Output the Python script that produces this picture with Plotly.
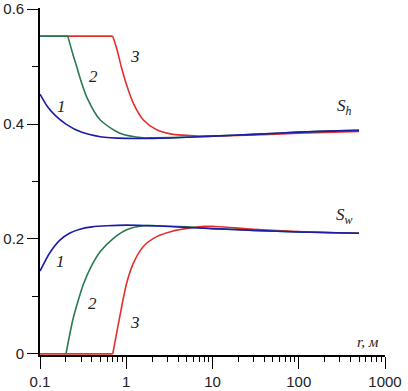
import plotly.graph_objects as go

# ---- data ----
# Upper family: S_h
r_h1 = [0.1, 0.12, 0.15, 0.2, 0.3, 0.5, 1, 2, 5, 10, 30, 100, 500]
sh_1 = [0.452, 0.432, 0.415, 0.400, 0.386, 0.378, 0.375, 0.375, 0.377, 0.379, 0.382, 0.386, 0.389]

r_h2 = [0.1, 0.21, 0.24, 0.266, 0.30, 0.348, 0.5, 0.846, 1.58, 2, 5, 10, 30, 100, 500]
sh_2 = [0.553, 0.553, 0.522, 0.500, 0.474, 0.447, 0.407, 0.384, 0.376, 0.376, 0.377, 0.379, 0.382, 0.386, 0.389]

r_h3 = [0.1, 0.697, 0.774, 0.885, 1.01, 1.21, 1.58, 2.25, 3.5, 5.5, 8, 20, 100, 500]
sh_3 = [0.553, 0.553, 0.532, 0.497, 0.468, 0.436, 0.407, 0.390, 0.382, 0.380, 0.379, 0.380, 0.384, 0.387]

# Lower family: S_w
r_w1 = [0.1, 0.13, 0.17, 0.22, 0.29, 0.4, 0.6, 1, 2, 5, 10, 30, 100, 500]
sw_1 = [0.144, 0.176, 0.198, 0.210, 0.217, 0.221, 0.223, 0.224, 0.223, 0.220, 0.218, 0.215, 0.212, 0.210]

r_w2 = [0.2, 0.24, 0.28, 0.32, 0.38, 0.5, 0.71, 1.01, 1.58, 2.2, 5, 10, 30, 100, 500]
sw_2 = [0.0, 0.059, 0.095, 0.122, 0.148, 0.178, 0.201, 0.216, 0.223, 0.223, 0.221, 0.218, 0.215, 0.212, 0.210]

r_w3 = [0.1, 0.697, 0.774, 0.885, 1.01, 1.21, 1.58, 2.25, 3.5, 5.5, 8, 10, 30, 100, 500]
sw_3 = [0.0, 0.0, 0.036, 0.082, 0.123, 0.158, 0.187, 0.204, 0.214, 0.219, 0.222, 0.222, 0.217, 0.213, 0.210]

x_ticks = [0.1, 1, 10, 100, 1000]
x_labels = ["0.1", "1", "10", "100", "1000"]
y_ticks = [0, 0.2, 0.4, 0.6]
y_labels = ["0", "0.2", "0.4", "0.6"]

BLUE = "#1c1ca8"
GREEN = "#2a7a52"
RED = "#e4302c"

fig = go.Figure()

def add(r, s, color, corner=0):
    # flat part (straight) up to the corner index, curved part as a spline
    if corner > 0:
        fig.add_trace(go.Scatter(x=r[:corner + 1], y=s[:corner + 1], mode="lines",
                                 line=dict(color=color, width=1.6),
                                 showlegend=False, hoverinfo="skip"))
    fig.add_trace(go.Scatter(x=r[corner:], y=s[corner:], mode="lines",
                             line=dict(color=color, width=1.6, shape="spline", smoothing=0.7),
                             showlegend=False, hoverinfo="skip"))

# draw order: red, green, blue (blue on top)
add(r_h3, sh_3, RED, corner=1)
add(r_w3, sw_3, RED, corner=1)
add(r_h2, sh_2, GREEN, corner=1)
add(r_w2, sw_2, GREEN)
add(r_h1, sh_1, BLUE)
add(r_w1, sw_1, BLUE)

serif = "Liberation Serif"
def lab(xlog, y, text, size=17):
    fig.add_annotation(x=xlog, y=y, text=text, showarrow=False,
                       font=dict(family=serif, size=size, color="#222"),
                       xanchor="center", yanchor="middle")

lab(-0.745, 0.430, "<i>1</i>")
lab(-0.385, 0.482, "<i>2</i>")
lab(0.101, 0.517, "<i>3</i>")
lab(-0.757, 0.160, "<i>1</i>")
lab(-0.386, 0.087, "<i>2</i>")
lab(0.101, 0.054, "<i>3</i>")
lab(2.536, 0.430, "<i>S<sub>h</sub></i>")
lab(2.536, 0.240, "<i>S<sub>w</sub></i>")
lab(2.80, 0.021, "<i>r, м</i>", size=15)

fig.update_xaxes(type="log", range=[-1, 3], automargin=False,
                 tickvals=x_ticks, ticktext=x_labels,
                 ticks="outside", ticklen=12, tickwidth=1.3, tickcolor="black",
                 showline=True, linecolor="black", linewidth=1.6,
                 showgrid=False, zeroline=False, layer="below traces",
                 minor=dict(ticks="outside", ticklen=5, tickwidth=1.3, tickcolor="black",
                            dtick="D1", showgrid=False),
                 tickfont=dict(family="Liberation Sans", size=15, color="#222"))
fig.update_yaxes(range=[-0.002, 0.602], automargin=False,
                 tickvals=y_ticks, ticktext=y_labels,
                 ticks="outside", ticklen=11, tickwidth=1.3, tickcolor="black",
                 showline=True, linecolor="black", linewidth=1.6,
                 showgrid=False, zeroline=False, layer="below traces",
                 minor=dict(ticks="outside", ticklen=6, tickwidth=1.3, tickcolor="black",
                            dtick=0.1, showgrid=False),
                 tickfont=dict(family="Liberation Sans", size=15, color="#222"))

fig.update_layout(width=408, height=391,
                  margin=dict(l=40, r=23, t=8, b=36),
                  plot_bgcolor="white", paper_bgcolor="white")

fig.write_html("out.html", config={"displayModeBar": False},
               post_script="document.body.style.margin='0';document.body.style.overflow='hidden';")
